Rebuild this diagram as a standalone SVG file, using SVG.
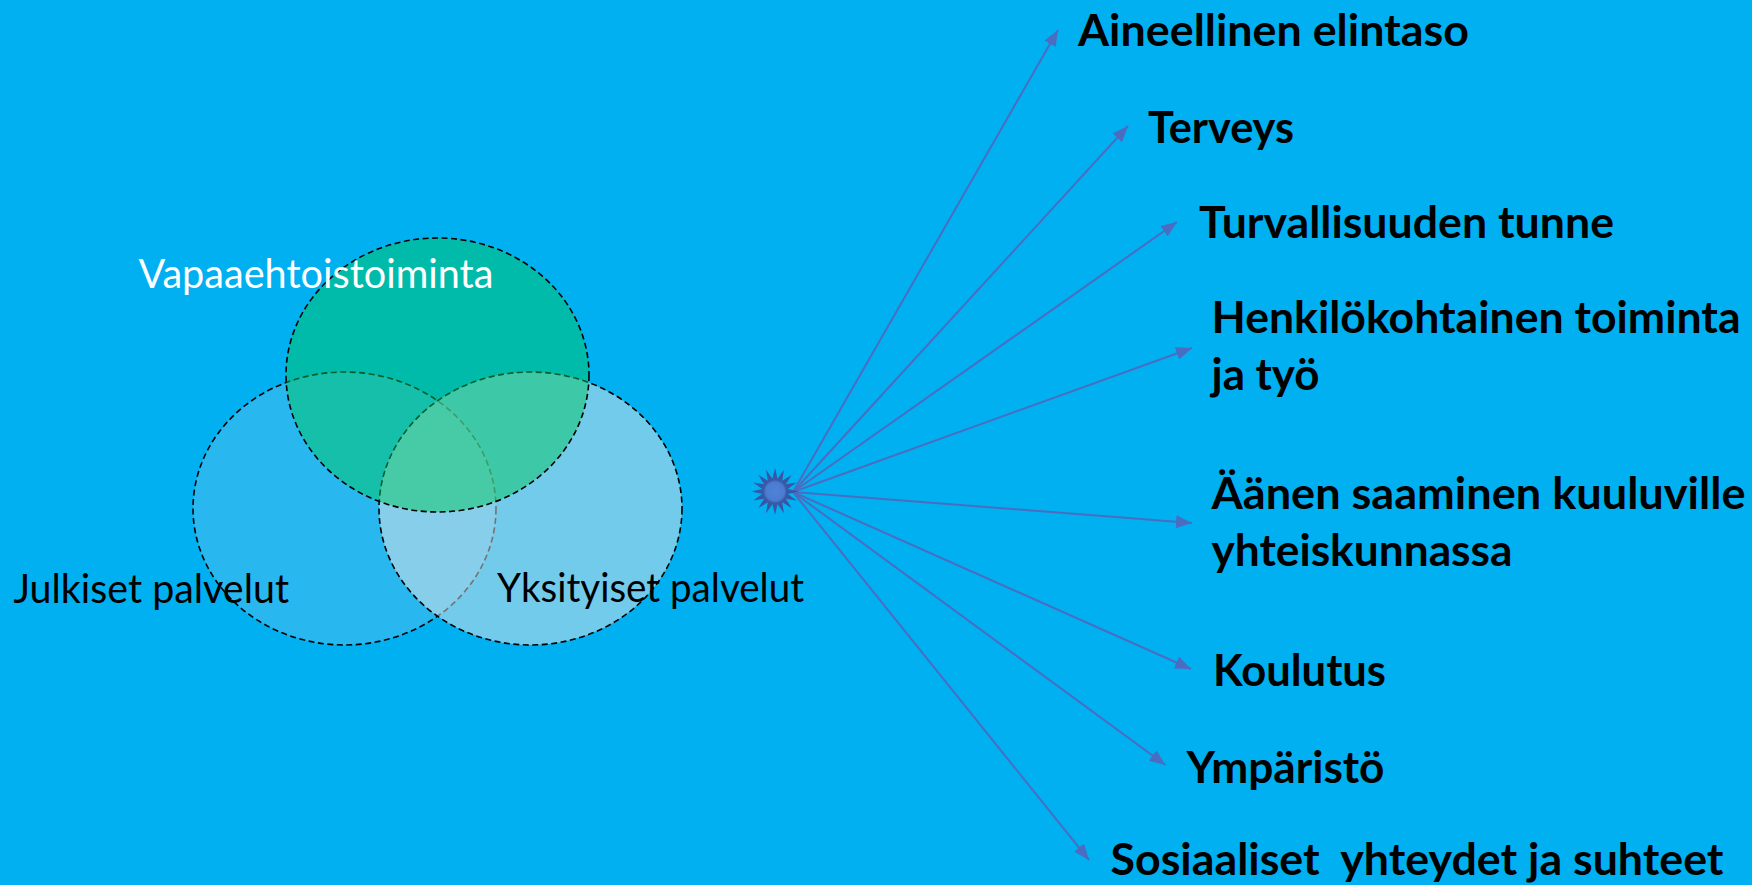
<svg xmlns="http://www.w3.org/2000/svg" width="1752" height="885" viewBox="0 0 1752 885">
<style>
.lbl{font-family:"Lato","Liberation Sans",sans-serif;font-weight:bold;font-size:44px;fill:#000;}
.reg{font-family:"Lato","Liberation Sans",sans-serif;font-size:40px;}
.circ{stroke:#000;stroke-width:1.6;stroke-dasharray:6 3.5;}
.conn{stroke:#4A6DC2;stroke-width:2;fill:none;marker-end:url(#arr);}
</style>
<defs>
<marker id="arr" markerUnits="userSpaceOnUse" markerWidth="18" markerHeight="14" refX="16" refY="6.5" orient="auto">
<path d="M0,0 L16,6.5 L0,13 z" fill="#4A6DC2"/>
</marker>
<radialGradient id="sg" cx="0.5" cy="0.5" r="0.5">
<stop offset="0" stop-color="#5083D8"/>
<stop offset="0.4" stop-color="#4A7BD0"/>
<stop offset="0.5" stop-color="#3858A8"/>
<stop offset="1" stop-color="#3453A2"/>
</radialGradient>
</defs>
<rect x="0" y="0" width="1752" height="885" fill="#00B0F0"/>
<g id="venn">
<ellipse id="julkiset" class="circ" cx="344.5" cy="508.5" rx="151.5" ry="136.5" fill="#C8D7E6" fill-opacity="0.2"/>
<ellipse id="yksityiset" class="circ" cx="530.5" cy="508.5" rx="151.5" ry="136.5" fill="#E6E6E6" fill-opacity="0.5"/>
<ellipse id="vapaa" class="circ" cx="437.5" cy="375" rx="151.5" ry="137" fill="#00C85B" fill-opacity="0.47"/>
</g>
<g id="venn-labels">
<text class="reg" x="138.5" y="288" fill="#FFFFFF" textLength="355" lengthAdjust="spacingAndGlyphs">Vapaaehtoistoiminta</text>
<text class="reg" x="13.5" y="603" fill="#000" textLength="275.5" lengthAdjust="spacingAndGlyphs">Julkiset palvelut</text>
<text class="reg" x="497" y="602" fill="#000" textLength="307" lengthAdjust="spacingAndGlyphs">Yksityiset palvelut</text>
</g>
<g id="connectors">
<line class="conn" x1="793" y1="492" x2="1058" y2="30"/>
<line class="conn" x1="793" y1="492" x2="1128" y2="126"/>
<line class="conn" x1="793" y1="492" x2="1177" y2="222"/>
<line class="conn" x1="793" y1="492" x2="1192" y2="348"/>
<line class="conn" x1="793" y1="492" x2="1192" y2="523"/>
<line class="conn" x1="793" y1="492" x2="1191" y2="669"/>
<line class="conn" x1="793" y1="492" x2="1165.5" y2="765"/>
<line class="conn" x1="793" y1="492" x2="1089" y2="860"/>
</g>
<g id="star">
<polygon fill="url(#sg)" points="775,468 777.54,478.75 783.99,469.79 782.22,480.69 791.62,474.88 785.81,484.28 796.71,482.51 787.75,488.96 798.5,491.5 787.75,494.04 796.71,500.49 785.81,498.72 791.62,508.12 782.22,502.31 783.99,513.21 777.54,504.25 775,515 772.46,504.25 766.01,513.21 767.78,502.31 758.38,508.12 764.19,498.72 753.29,500.49 762.25,494.04 751.5,491.5 762.25,488.96 753.29,482.51 764.19,484.28 758.38,474.88 767.78,480.69 766.01,469.79 772.46,478.75"/>
</g>
<g id="labels">
<text id="t1" class="lbl" x="1078" y="46" textLength="391" lengthAdjust="spacingAndGlyphs">Aineellinen elintaso</text>
<text id="t2" class="lbl" x="1148" y="143" textLength="146" lengthAdjust="spacingAndGlyphs">Terveys</text>
<text id="t3" class="lbl" x="1199" y="238" textLength="415" lengthAdjust="spacingAndGlyphs">Turvallisuuden tunne</text>
<text id="t4" class="lbl" x="1211.5" y="333" textLength="529" lengthAdjust="spacingAndGlyphs">Henkilökohtainen toiminta</text>
<text id="t4b" class="lbl" x="1211.5" y="390" textLength="108" lengthAdjust="spacingAndGlyphs">ja työ</text>
<text id="t5" class="lbl" x="1211.5" y="509" textLength="534" lengthAdjust="spacingAndGlyphs">Äänen saaminen kuuluville</text>
<text id="t5b" class="lbl" x="1211.5" y="566" textLength="301" lengthAdjust="spacingAndGlyphs">yhteiskunnassa</text>
<text id="t6" class="lbl" x="1213" y="686" textLength="173" lengthAdjust="spacingAndGlyphs">Koulutus</text>
<text id="t7" class="lbl" x="1186.5" y="782.5" textLength="198" lengthAdjust="spacingAndGlyphs">Ympäristö</text>
<text id="t8" class="lbl" x="1110.5" y="875" textLength="613" lengthAdjust="spacingAndGlyphs" xml:space="preserve" style="white-space:pre">Sosiaaliset  yhteydet ja suhteet</text>
</g>
</svg>
